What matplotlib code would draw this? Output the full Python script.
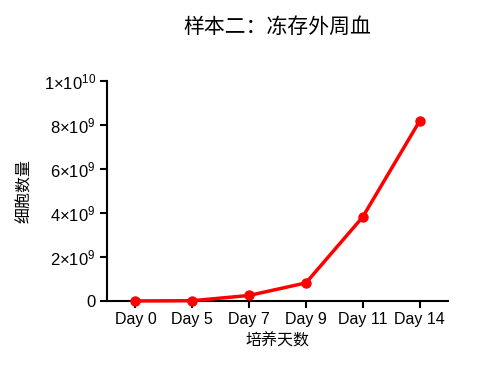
import matplotlib
matplotlib.use('Agg')
import matplotlib.pyplot as plt
import numpy as np

days = ['Day 0', 'Day 5', 'Day 7', 'Day 9', 'Day 11', 'Day 14']
cells = [0.0, 0.01e9, 0.25e9, 0.82e9, 3.82e9, 8.18e9]
ytick_vals = [0, 2e9, 4e9, 6e9, 8e9, 1e10]
ytick_labels = ['0', r'$2{\times}10^{9}$', r'$4{\times}10^{9}$', r'$6{\times}10^{9}$',
                r'$8{\times}10^{9}$', r'$1{\times}10^{10}$']

plt.rcParams['font.family'] = ['Liberation Sans', 'Noto Sans CJK SC', 'DejaVu Sans']
plt.rcParams['mathtext.fontset'] = 'custom'
plt.rcParams['mathtext.rm'] = 'Liberation Sans'
plt.rcParams['mathtext.it'] = 'Liberation Sans'

fig = plt.figure(figsize=(5, 3.72), dpi=100)
ax = fig.add_axes([0.214, 0.191, 0.682, 0.591])

x = np.arange(len(days))
ax.plot(x, cells, color='#ff0000', lw=2.5, marker='o', ms=6.5, clip_on=False, zorder=3)

ax.set_xlim(-0.5, len(days) - 0.5)
ax.set_ylim(0, 1e10)
ax.set_xticks(x)
ax.set_xticklabels(days, fontsize=11.5)
ax.set_yticks(ytick_vals)
ax.set_yticklabels(ytick_labels, fontsize=12)

for s in ['top', 'right']:
    ax.spines[s].set_visible(False)
for s in ['left', 'bottom']:
    ax.spines[s].set_linewidth(1.5)
ax.tick_params(width=1.5, length=5, direction='out', pad=3)

cjk = ['Noto Sans CJK SC', 'DejaVu Sans']
ax.set_xlabel('培养天数', fontsize=11.5, family=cjk, labelpad=4)
ax.set_ylabel('细胞数量', fontsize=11.5, family=cjk, labelpad=8)
ax.set_title('样本二：冻存外周血', fontsize=15, family=cjk, pad=35)

fig.savefig('out.png', dpi=100)
